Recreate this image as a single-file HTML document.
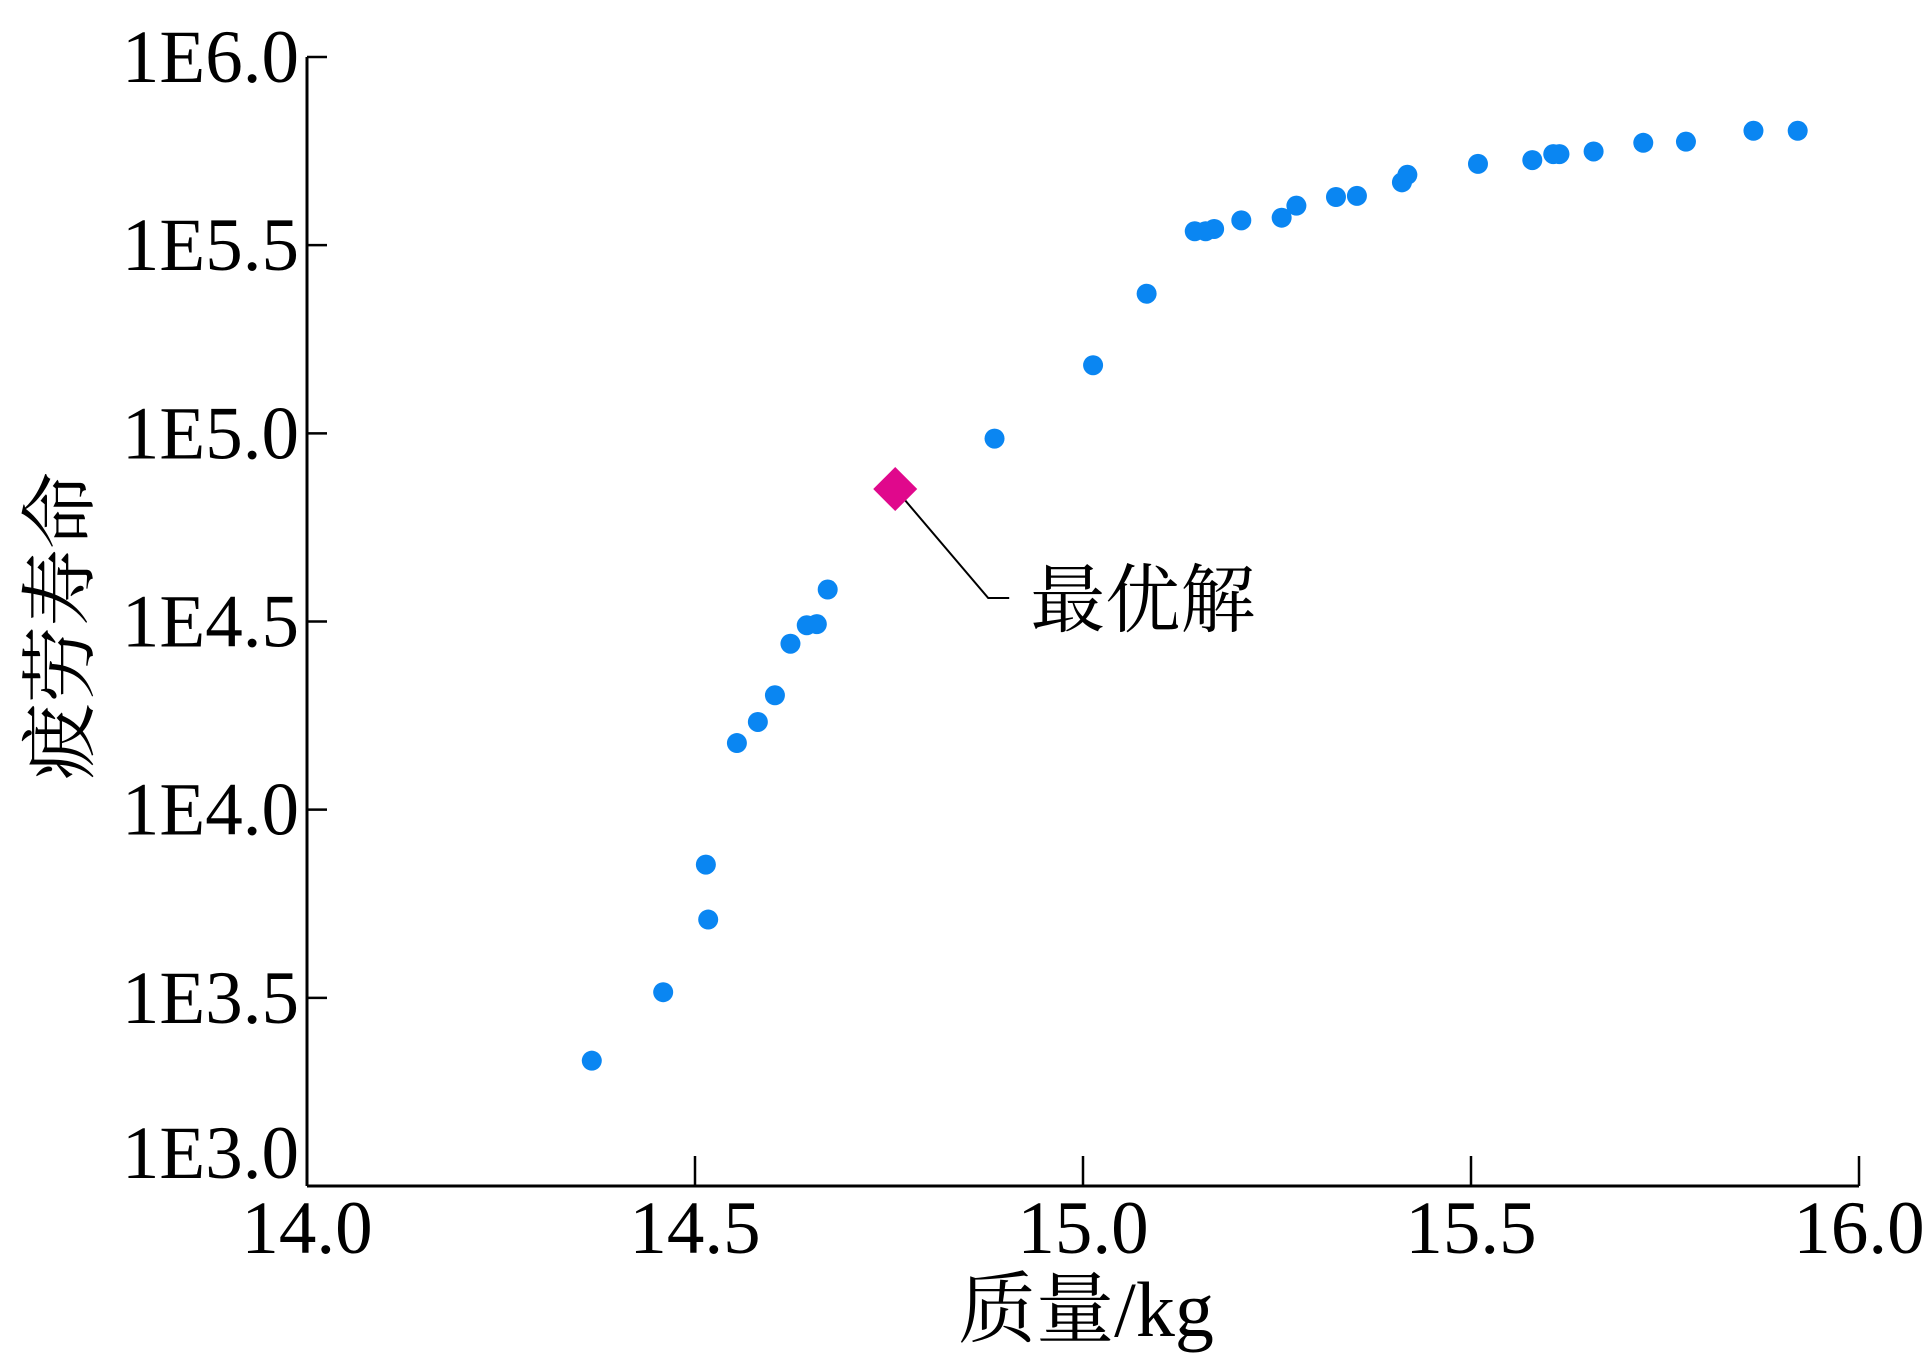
<!DOCTYPE html>
<html><head><meta charset="utf-8"><style>
html,body{margin:0;padding:0;background:#fff;}
svg{display:block;}
text{font-family:"Liberation Serif","Noto Serif CJK SC",serif;fill:#000;}
</style></head><body>
<svg id="chart" width="1925" height="1353" viewBox="0 0 1925 1353" xmlns="http://www.w3.org/2000/svg">
<g id="axes"></g>
<g id="points"></g>
</svg>
<script>
const massValues=[14.367,14.459,14.514,14.517,14.554,14.581,14.603,14.623,14.644,14.657,14.671,14.886,15.013,15.082,15.144,15.158,15.169,15.204,15.256,15.275,15.326,15.353,15.411,15.418,15.509,15.579,15.606,15.614,15.658,15.722,15.777,15.864,15.921];
const lifeLogValues=[3.333,3.515,3.854,3.708,4.177,4.233,4.304,4.441,4.490,4.493,4.585,4.986,5.181,5.371,5.537,5.537,5.543,5.566,5.573,5.605,5.628,5.631,5.667,5.687,5.716,5.726,5.742,5.742,5.749,5.772,5.775,5.804,5.804];
const optimalPoint=[14.758,4.852];
const xTicks=[14.0,14.5,15.0,15.5,16.0];
const xTickLabels=["14.0","14.5","15.0","15.5","16.0"];
const yTicks=[3.0,3.5,4.0,4.5,5.0,5.5,6.0];
const yTickLabels=["1E3.0","1E3.5","1E4.0","1E4.5","1E5.0","1E5.5","1E6.0"];

const NS="http://www.w3.org/2000/svg";
const X0=307,X1=1859,Y0=1186,Y1=57;
function xs(v){return X0+(v-14)/(16-14)*(X1-X0);}
function ys(v){return Y0-(v-3)/(6-3)*(Y0-Y1);}
function mk(tag,attrs,parent,txt){const e=document.createElementNS(NS,tag);for(const k in attrs)e.setAttribute(k,attrs[k]);if(txt!==undefined)e.textContent=txt;parent.appendChild(e);return e;}
const axes=document.getElementById('axes'),pts=document.getElementById('points');

let e=mk('line',{x1:X0,y1:Y1,x2:X0,y2:Y0,stroke:'#000','stroke-width':3},axes);


e=mk('line',{x1:X0,y1:Y0,x2:X1,y2:Y0,stroke:'#000','stroke-width':3},axes);



xTicks.forEach((t,i)=>{
  const x=xs(t);
  let l=mk('line',{x1:x,y1:Y0,x2:x,y2:Y0-30,stroke:'#000','stroke-width':2.5},axes);
  
  
  let tx=mk('text',{x:x,y:1253,'font-size':75,'text-anchor':'middle'},axes,xTickLabels[i]);
  
  
});
yTicks.forEach((t,i)=>{
  const y=ys(t);
  let l=mk('line',{x1:X0,y1:y,x2:X0+20,y2:y,stroke:'#000','stroke-width':2.5},axes);
  
  
  const off=(i===0)?-8:25;
  let tx=mk('text',{x:299,y:y+off,'font-size':75,'text-anchor':'end'},axes,yTickLabels[i]);
  
  
});
e=mk('text',{x:1086,y:1336,'font-size':78,'text-anchor':'middle'},axes,'质量/kg');


e=mk('text',{x:0,y:0,'font-size':77,'text-anchor':'middle',transform:'translate(87,626) rotate(-90)'},axes,'疲劳寿命');



massValues.forEach((m,i)=>{
  const c=mk('circle',{cx:xs(m),cy:ys(lifeLogValues[i]),r:10,fill:'#0a86f2'},pts);
  
  
});
const ox=xs(optimalPoint[0]),oy=ys(optimalPoint[1]);
e=mk('polyline',{points:`${ox+2},${oy+2} ${ox+93},${oy+109} ${ox+114},${oy+109}`,fill:'none',stroke:'#000','stroke-width':2},pts);


e=mk('polygon',{points:`${ox},${oy-22} ${ox+22},${oy} ${ox},${oy+22} ${ox-22},${oy}`,fill:'#e0088c'},pts);


e=mk('text',{x:ox+135,y:oy+137,'font-size':75},pts,'最优解');


</script>
</body></html>
